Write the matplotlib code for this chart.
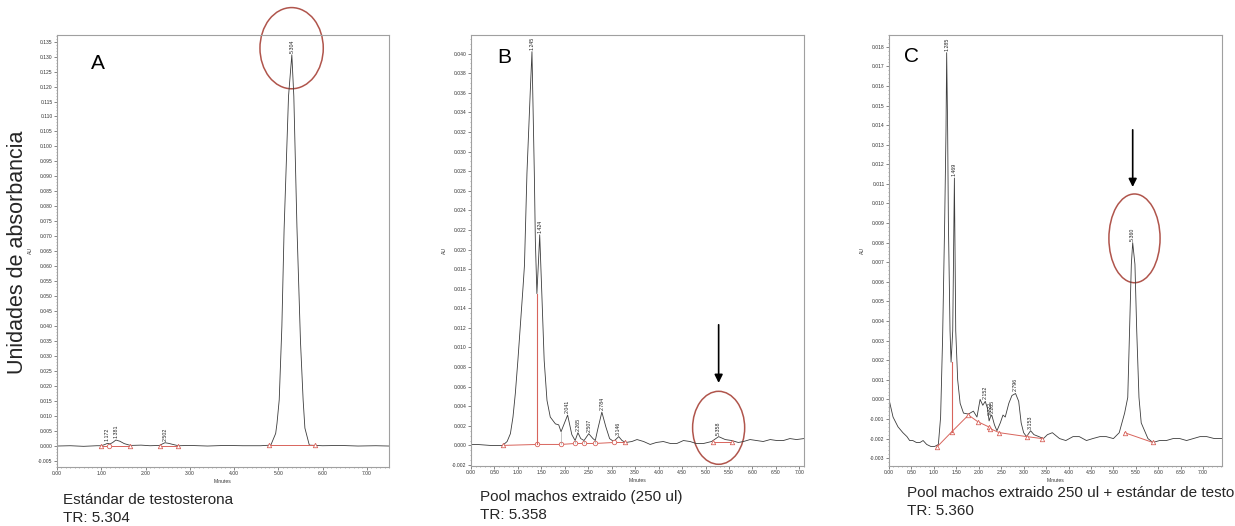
import numpy as np
import matplotlib
matplotlib.use('Agg')
import matplotlib.pyplot as plt
from matplotlib.patches import Ellipse
from matplotlib.ticker import MultipleLocator, FormatStrFormatter

plt.rcParams['font.family'] = ['Liberation Sans', 'DejaVu Sans']

# ---- panel A: testosterone standard ----
time_a = [0.00, 0.30, 0.60, 0.90, 1.00, 1.08, 1.14, 1.20, 1.26, 1.33, 1.42, 1.52, 1.66, 1.90,
          2.10, 2.32, 2.38, 2.44, 2.52, 2.60, 2.74, 3.00, 3.40, 3.80, 4.20, 4.60, 4.83, 4.94,
          4.97, 5.02, 5.08, 5.13, 5.23, 5.305, 5.35, 5.42, 5.50, 5.56, 5.60, 5.70, 6.00, 6.40,
          6.80, 7.20, 7.50]
abs_a = [0.0000, 0.0001, -0.0001, 0.0001, 0.0001, 0.0005, 0.0009, 0.0007, 0.0012, 0.0020,
         0.0016, 0.0008, 0.0002, 0.0003, 0.0001, 0.0002, 0.0007, 0.0011, 0.0009, 0.0006, 0.0001,
         0.0002, 0.0000, 0.0002, 0.0001, 0.0001, 0.0003, 0.0042, 0.0076, 0.0154, 0.0400, 0.0722,
         0.1167, 0.1306, 0.1167, 0.0733, 0.0350, 0.0154, 0.0060, 0.0003, 0.0001, 0.0002, 0.0000,
         0.0001, 0.0000]
peak_lbl_a = ['1.172', '1.381', '2.502', '5.304']
peak_t_a = [1.14, 1.33, 2.44, 5.305]
base_a = [[(1.00, 0.0000, '^'), (1.17, 0.0000, 'o'), (1.66, 0.0000, '^')],
          [(2.32, 0.0001, '^'), (2.74, 0.0001, '^')],
          [(4.80, 0.0002, '^'), (5.82, 0.0002, '^')]]

# ---- panel B: pooled male extract ----
time_b = [0.00, 0.13, 0.41, 0.60, 0.675, 0.77, 0.84, 0.895, 0.945, 1.00, 1.05, 1.11, 1.14,
          1.193, 1.265, 1.30, 1.35, 1.372, 1.405, 1.44, 1.465, 1.51, 1.56, 1.62, 1.69, 1.80,
          1.87, 1.92, 2.06, 2.15, 2.22, 2.28, 2.34, 2.41, 2.51, 2.60, 2.65, 2.70, 2.79, 2.875,
          2.955, 3.04, 3.15, 3.22, 3.30, 3.43, 3.54, 3.68, 3.82, 3.95, 4.10, 4.25, 4.39, 4.53,
          4.67, 4.80, 4.96, 5.13, 5.28, 5.42, 5.56, 5.70, 5.81, 5.95, 6.09, 6.23, 6.38, 6.52,
          6.66, 6.80, 6.94, 7.10]
abs_b = [0.0001, 0.0001, 0.0000, 0.0000, 0.0000, 0.0004, 0.0012, 0.0029, 0.0053, 0.0087,
         0.0121, 0.0162, 0.0184, 0.0278, 0.0363, 0.0402, 0.0278, 0.0209, 0.0155, 0.0189, 0.0215,
         0.0155, 0.0087, 0.0046, 0.0029, 0.0022, 0.0021, 0.0014, 0.0031, 0.0011, 0.0005, 0.0013,
         0.0007, 0.0005, 0.0012, 0.0007, 0.0005, 0.0016, 0.0034, 0.0019, 0.0007, 0.0004, 0.0009,
         0.0005, 0.0003, 0.0004, 0.0006, 0.0004, 0.0001, 0.0003, 0.0004, 0.0002, 0.0002, 0.0005,
         0.0004, 0.0002, 0.0002, 0.0004, 0.0009, 0.0006, 0.0005, 0.0003, 0.0004, 0.0006, 0.0005,
         0.0004, 0.0006, 0.0005, 0.0005, 0.0007, 0.0006, 0.0007]
peak_lbl_b = ['1.245', '1.424', '2.041', '2.265', '2.507', '2.784', '3.146', '5.358']
peak_t_b = [1.30, 1.465, 2.06, 2.28, 2.51, 2.79, 3.15, 5.28]
base_b = [[(0.675, 0.0000, '^'), (1.405, 0.0001, 'o'), (1.92, 0.0001, 'o'), (2.22, 0.0002, 'o'),
           (2.41, 0.0002, 'o'), (2.65, 0.0002, 'o'), (3.04, 0.0003, 'o'), (3.29, 0.0003, '^')],
          [(5.15, 0.0003, '^'), (5.56, 0.0003, '^')]]
drop_b = [(1.92, 0.0001, 0.0014), (2.22, 0.0002, 0.0005), (2.41, 0.0002, 0.0005),
          (2.65, 0.0002, 0.0005), (3.04, 0.0003, 0.0004)]
split_b = (1.405, 0.0001, 0.0155)

# ---- panel C: pooled male extract + standard ----
time_c = [0.00, 0.02, 0.09, 0.20, 0.31, 0.40, 0.46, 0.53, 0.61, 0.69, 0.76, 0.84, 0.93, 1.02,
          1.10, 1.15, 1.195, 1.24, 1.27, 1.285, 1.307, 1.323, 1.36, 1.383, 1.42, 1.457, 1.487,
          1.53, 1.585, 1.66, 1.77, 1.88, 1.96, 2.03, 2.09, 2.145, 2.20, 2.23, 2.26, 2.29, 2.35,
          2.405, 2.48, 2.54, 2.59, 2.67, 2.74, 2.82, 2.89, 2.945, 3.00, 3.065, 3.155, 3.23,
          3.34, 3.44, 3.53, 3.64, 3.80, 3.94, 4.10, 4.24, 4.40, 4.54, 4.70, 4.84, 5.00, 5.13,
          5.25, 5.32, 5.36, 5.40, 5.43, 5.48, 5.52, 5.57, 5.62, 5.77, 5.88, 6.03, 6.18, 6.33,
          6.48, 6.63, 6.78, 6.93, 7.08, 7.25, 7.42]
abs_c = [0.0000, -0.0002, -0.0009, -0.0014, -0.0017, -0.0019, -0.0021, -0.0021, -0.0022,
         -0.0022, -0.0021, -0.0023, -0.0024, -0.0024, -0.0023, -0.0009, 0.0032, 0.0090, 0.0137,
         0.0177, 0.0137, 0.0091, 0.0035, 0.0019, 0.0035, 0.0113, 0.0035, 0.0010, -0.0002,
         -0.0007, -0.00075, -0.0006, -0.0009, -0.0000, -0.0003, -0.0001, -0.0005, -0.0011,
         -0.0009, -0.0008, -0.0013, -0.0016, -0.0012, -0.0008, -0.0009, -0.0002, 0.0002, 0.0003,
         -0.0001, -0.0012, -0.0017, -0.0019, -0.0016, -0.0018, -0.0019, -0.0020, -0.0018,
         -0.0017, -0.0020, -0.0021, -0.0019, -0.0019, -0.0021, -0.0020, -0.0019, -0.0019,
         -0.0020, -0.0017, -0.0007, 0.0001, 0.0035, 0.0069, 0.0080, 0.0069, 0.0035, 0.0001,
         -0.0012, -0.0020, -0.0022, -0.0021, -0.0021, -0.0020, -0.0020, -0.0021, -0.0020,
         -0.0019, -0.0019, -0.0020, -0.0020]
peak_lbl_c = ['1.285', '1.469', '2.152', '2.222', '2.265', '2.796', '3.153', '5.360']
peak_t_c = [1.285, 1.457, 2.145, 2.26, 2.29, 2.82, 3.155, 5.43]
base_c = [[(1.06, -0.00245, '^'), (1.40, -0.00165, '^'), (1.77, -0.0008, '^'),
           (1.98, -0.00114, '^'), (2.22, -0.0014, '^'), (2.26, -0.0015, '^'),
           (2.46, -0.0017, '^'), (3.07, -0.0019, '^'), (3.41, -0.0020, '^')],
          [(5.25, -0.0017, '^'), (5.88, -0.0022, '^')]]
split_c = (1.40, -0.00165, 0.0019)

TRACE = '#3c3c3c'
BASE = '#d8645c'
RING = '#b0554c'

fig = plt.figure(figsize=(12.35, 5.26), dpi=100)


def panel(rect, t, a, xlim, ylim, ystep, yminor, xstep, lbls, pt, base, letter, lpos):
    ax = fig.add_axes(rect)
    ax.plot(t, a, color=TRACE, lw=0.6)
    for seg in base:
        ax.plot([p[0] for p in seg], [p[1] for p in seg], color=BASE, lw=0.7)
        for x, y, m in seg:
            ax.plot(x, y, marker=m, ms=3.2, mfc='white', mec=BASE, mew=0.6)
    for lb, x in zip(lbls, pt):
        ax.annotate(lb, (x, np.interp(x, t, a)), xytext=(0, 1.5), textcoords='offset points',
                    rotation=90, ha='center', va='bottom', fontsize=3.8, color='#222')
    ax.set_xlim(*xlim)
    ax.set_ylim(*ylim)
    ax.yaxis.set_major_locator(MultipleLocator(ystep))
    ax.yaxis.set_minor_locator(MultipleLocator(yminor))
    ax.yaxis.set_major_formatter(FormatStrFormatter('%.3f'))
    ax.xaxis.set_major_locator(MultipleLocator(xstep))
    ax.xaxis.set_minor_locator(MultipleLocator(0.1))
    ax.xaxis.set_major_formatter(FormatStrFormatter('%.2f'))
    ax.tick_params(which='major', length=2.2, width=0.5, labelsize=3.6, pad=1,
                   color='#555', labelcolor='#333')
    ax.tick_params(which='minor', length=1.0, width=0.4, color='#777')
    for s in ax.spines.values():
        s.set_color('#a0a0a0')
        s.set_linewidth(0.8)
    ax.set_xlabel('Minutes', fontsize=3.6, labelpad=1.5, color='#333')
    ax.set_ylabel('AU', fontsize=3.6, labelpad=4, color='#333')
    ax.text(lpos[0], lpos[1], letter, transform=ax.transAxes, fontsize=15,
            ha='center', va='center')
    return ax


axA = panel([57 / 1235, 59 / 526, 332 / 1235, 432 / 526], time_a, abs_a, (0, 7.5),
            (-0.007, 0.1372), 0.005, 0.001, 1.0, peak_lbl_a, peak_t_a, base_a, 'A',
            (0.123, 0.935))
axB = panel([471 / 1235, 60 / 526, 333 / 1235, 431 / 526], time_b, abs_b, (0, 7.1),
            (-0.0021, 0.0419), 0.002, 0.0005, 0.5, peak_lbl_b, peak_t_b, base_b, 'B',
            (0.099, 0.947))
axC = panel([889 / 1235, 60 / 526, 333 / 1235, 431 / 526], time_c, abs_c, (0, 7.42),
            (-0.0034, 0.0186), 0.001, 0.0002, 0.5, peak_lbl_c, peak_t_c, base_c, 'C',
            (0.069, 0.949))

# peak split / drop lines
axB.plot([split_b[0]] * 2, split_b[1:], color=BASE, lw=0.8)
for x, y0, y1 in drop_b:
    axB.plot([x, x], [y0, y1], color='#999', lw=0.4)
axC.plot([split_c[0]] * 2, split_c[1:], color=BASE, lw=0.8)

# circled peaks and arrows
axA.add_patch(Ellipse((5.30, 0.1328), 1.43, 0.0271, fill=False, ec=RING, lw=1.1, clip_on=False))
axB.add_patch(Ellipse((5.28, 0.0018), 1.11, 0.00745, fill=False, ec=RING, lw=1.1, clip_on=False))
axC.add_patch(Ellipse((5.47, 0.00822), 1.14, 0.00453, fill=False, ec=RING, lw=1.1, clip_on=False))
axB.annotate('', xy=(5.28, 0.0061), xytext=(5.28, 0.0126),
             arrowprops=dict(arrowstyle='-|>', color='black', lw=1.2, mutation_scale=12))
axC.annotate('', xy=(5.43, 0.0107), xytext=(5.43, 0.0139),
             arrowprops=dict(arrowstyle='-|>', color='black', lw=1.2, mutation_scale=12))

fig.text(18 / 1235, 0.52, 'Unidades de absorbancia', rotation=90, fontsize=15.5,
         ha='center', va='center', color='#262626')

captions = [('Estándar de testosterona', 'TR: 5.304', 63, 500),
            ('Pool machos extraido (250 ul)', 'TR: 5.358', 480, 497),
            ('Pool machos extraido 250 ul + estándar de testo', 'TR: 5.360', 907, 493)]
for l1, l2, x, y in captions:
    fig.text(x / 1235, 1 - y / 526, l1, fontsize=11, va='center', ha='left', color='#262626')
    fig.text(x / 1235, 1 - (y + 18) / 526, l2, fontsize=11, va='center', ha='left', color='#262626')

fig.savefig('out.png', dpi=100)
